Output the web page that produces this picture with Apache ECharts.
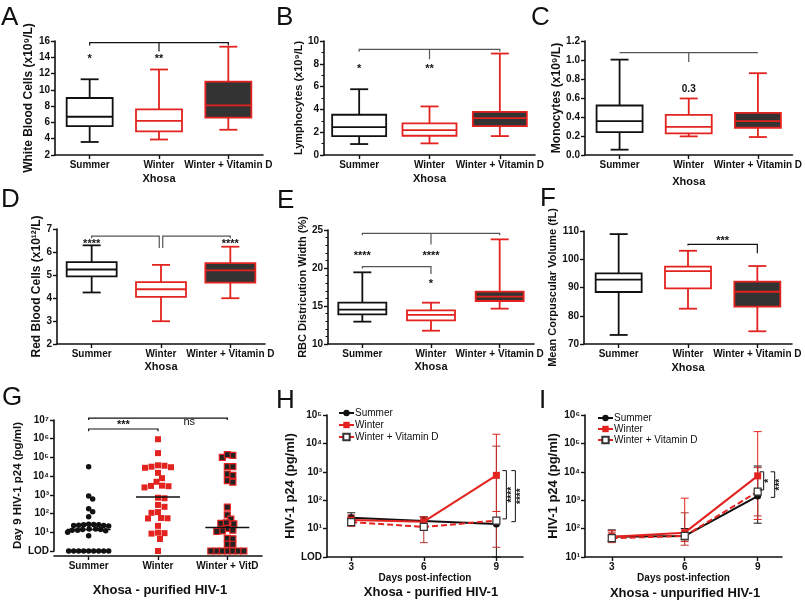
<!DOCTYPE html>
<html><head><meta charset="utf-8">
<script src="https://cdn.jsdelivr.net/npm/echarts@6/dist/echarts.min.js"></script>
<style>html,body{margin:0;padding:0;background:#fff}#c{width:805px;height:602px}</style>
</head><body><div id="c"></div><script>
const FONT = '"Liberation Sans", Arial, Helvetica, sans-serif';
const RED = '#e3231f';
const DARK = '#333333';
const INK = '#111111';

// ---------- data ----------
const groups = ['Summer', 'Winter', 'Winter + Vitamin D'];
const groupsG = ['Summer', 'Winter', 'Winter + VitD'];
// box plots: [min, Q1, median, Q3, max]
const wbc   = [[3.6,5.55,6.7,9.0,11.3],[3.9,4.9,6.2,7.6,12.5],[5.1,6.6,8.1,11.0,15.3]];
const lymph = [[0.96,1.66,2.45,3.53,5.77],[1.02,1.69,2.19,2.77,4.26],[1.66,2.54,3.24,3.79,8.9]];
const mono  = [[0.056,0.241,0.357,0.521,1.004],[0.196,0.227,0.297,0.423,0.595],[0.189,0.287,0.357,0.444,0.861]];
const rbc   = [[4.24,4.94,5.24,5.56,6.29],[2.99,4.05,4.38,4.69,5.44],[3.99,4.67,5.2,5.52,6.23]];
const rdw   = [[12.94,13.9,14.52,15.44,19.43],[11.75,13.11,13.82,14.43,15.44],[14.65,15.66,16.23,16.89,23.77]];
const mcv   = [[73.2,88.4,92.8,95.0,108.9],[82.5,89.7,95.8,97.4,103.0],[74.5,83.2,88.5,92.1,97.6]];

// G: day 9 p24 per donor (LOD = 1)
const summerG = [32000,870,600,180,125,68,27,25,23,26,24,22,25,23,15,13,14,12,15,13,14,10,6.6,1,1,1,1,1,1,1,1,1];
const winterG = [940000,170000,38000,30000,28000,32000,36000,15000,7800,5000,3000,2900,3100,2500,660,700,290,230,120,110,56,55,58,22,9,9.5,8.5,4.4,1];
const vitdG   = [130000,100000,140000,32000,32000,13000,11000,5800,4800,220,85,50,30,32,28,16,12,13,11,4.7,4.5,2.3,2.3,1,1,1,1,1,1,1];
const mediansG = [14, 770, 18];

// H / I: geometric means and error ranges
const days = [3, 6, 9];
const summerH = [24, 18.5, 14.5];
const winterH = [20, 17.5, 750];
const vitdH   = [17, 11.5, 19];
const summerHErr = [[17,36],[13.5,26],[1,22]];
const winterHErr = [[14,30],[12,26],[40,21000]];
const vitdHErr   = [[12,25],[3.2,25],[2.2,8000]];
const summerI = [52, 55, 1400];
const winterI = [52, 72, 7200];
const vitdI   = [46, 55, 2000];
const summerIErr = [[35,90],[40,100],[155,16000]];
const winterIErr = [[38,85],[35,1180],[210,260000]];
const vitdIErr   = [[32,75],[26,360],[280,14000]];

// significance annotations (data coordinates)
const sigLinesA = [[[0,15.45],[0,15.8],[2,15.8],[2,15.45]], [[1,15.8],[1,14.7]]];
const sigLabelsA = [[0,14.0,'*'],[1,14.0,'**']];
const sigLinesB = [[[0,9.05],[0,9.27],[2,9.27],[2,9.05]], [[1,9.27],[1,8.4]]];
const sigLabelsB = [[0,7.75,'*'],[1,7.75,'**']];
const sigLinesC = [[[0,1.078],[2,1.078]], [[1,1.078],[1,0.98]]];
const sigLabelsC = [[1,0.69,'0.3']];
const sigLinesD = [[[0,6.6],[0,6.69],[0.975,6.69],[0.975,6.17]], [[1.025,6.17],[1.025,6.69],[2,6.69],[2,6.6]]];
const sigLabelsD = [[0,6.45,'****'],[2,6.45,'****']];
const sigLinesE = [[[0,24.3],[0,24.56],[2,24.56],[2,24.3]], [[1,24.56],[1,23.1]], [[0,19.95],[0,20.18],[1,20.18],[1,19.2]]];
const sigLabelsE = [[0,21.9,'****'],[1,21.9,'****'],[1,18.1,'*']];
const sigLinesF = [[[1,104.9],[1,105.3],[2,105.3],[2,102.1]]];
const sigLabelsF = [[1.5,107.2,'***']];
const sigLinesG = [[[0,1e7],[0,1.26e7],[2,1.26e7],[2,1e7]], [[0,2.5e6],[0,3.3e6],[1,3.3e6],[1,2.5e6]]];
const sigLabelsG = [[0.5,6.8e6,'***'],[1.45,7.9e6,'ns']];
const sideSigH = [[9,1100,22,'****'],[9,1100,17.5,'****']];
const sideSigI = [[9,10000,2300,'*'],[9,10000,1260,'***']];

// ---------- helpers ----------
const SUP = {'0':'⁰','1':'¹','2':'²','3':'³','4':'⁴','5':'⁵','6':'⁶','7':'⁷','8':'⁸','9':'⁹','-':'⁻'};
const sup = n => String(n).split('').map(c => SUP[c]).join('');
const logLabel = v => { const e = Math.round(Math.log10(v)); return e === 0 ? 'LOD' : '10' + sup(e); };

const boxStyles = [
  {stroke: INK, fill: '#ffffff', median: INK},
  {stroke: RED, fill: '#ffffff', median: RED},
  {stroke: RED, fill: DARK, median: RED}
];

// coordinate on a category axis that also accepts fractional positions
function catCoord(api, p) {
  const a = Math.floor(p[0]), b = Math.ceil(p[0]);
  if (a === b) return api.coord(p);
  const pa = api.coord([a, p[1]]), pb = api.coord([b, p[1]]), t = p[0] - a;
  return [pa[0] + (pb[0] - pa[0]) * t, pa[1]];
}

function boxSeries(g, data, boxW) {
  return {
    type: 'custom', xAxisIndex: g, yAxisIndex: g, z: 3,
    data: data.map((d, i) => [i].concat(d)),
    encode: {x: 0, y: [1, 2, 3, 4, 5]},
    renderItem(params, api) {
      const i = api.value(0);
      const st = boxStyles[i];
      const c = k => api.coord([i, api.value(k)]);
      const pMin = c(1), pQ1 = c(2), pMed = c(3), pQ3 = c(4), pMax = c(5);
      const x = pMin[0], cap = 9, hw = boxW / 2, lw = 1.8;
      const ln = (x1, y1, x2, y2, col) => ({type: 'line', shape: {x1, y1, x2, y2}, style: {stroke: col, lineWidth: lw}});
      return {type: 'group', children: [
        ln(x, pQ3[1], x, pMax[1], st.stroke),
        ln(x, pQ1[1], x, pMin[1], st.stroke),
        ln(x - cap, pMax[1], x + cap, pMax[1], st.stroke),
        ln(x - cap, pMin[1], x + cap, pMin[1], st.stroke),
        {type: 'rect', shape: {x: x - hw, y: pQ3[1], width: boxW, height: pQ1[1] - pQ3[1]},
         style: {fill: st.fill, stroke: st.stroke, lineWidth: lw}},
        ln(x - hw, pMed[1], x + hw, pMed[1], st.median)
      ]};
    }
  };
}

function sigSeries(g, lines, labels, color, fontSize) {
  return {
    type: 'custom', xAxisIndex: g, yAxisIndex: g, z: 6, silent: true, clip: false,
    data: [[0]],
    renderItem(params, api) {
      const ch = [];
      lines.forEach(pl => ch.push({type: 'polyline', shape: {points: pl.map(p => catCoord(api, p))},
        style: {stroke: color, lineWidth: 1.2, fill: null}}));
      labels.forEach(t => {
        const p = catCoord(api, [t[0], t[1]]);
        const isStar = t[2].indexOf('*') >= 0;
        ch.push({type: 'text', x: p[0], y: p[1] + (isStar ? 2 : 0),
          style: {text: t[2], fill: INK, font: (isStar || t[2] === '0.3' ? 'bold ' : '') + (fontSize || 11) + 'px ' + FONT,
                  textAlign: 'center', textVerticalAlign: 'middle'}});
      });
      return {type: 'group', children: ch};
    }
  };
}

function beeswarm(ys, gap) {
  const order = ys.map((y, i) => i).sort((a, b) => ys[a] - ys[b]);
  const offs = new Array(ys.length).fill(0);
  const placed = [];
  order.forEach(i => {
    let chosen = 0;
    for (let s = 0; s < 200; s += 0.5) {
      let ok = false;
      for (const sign of [1, -1]) {
        const cand = s * sign;
        const clash = placed.some(p => (p[0] - cand) ** 2 + (p[1] - ys[i]) ** 2 < gap * gap);
        if (!clash) { chosen = cand; ok = true; break; }
      }
      if (ok) break;
    }
    offs[i] = chosen;
    placed.push([chosen, ys[i]]);
  });
  return offs;
}

function swarmSeries(g, cat, values, kind) {
  let offs = null;
  return {
    type: 'custom', xAxisIndex: g, yAxisIndex: g, z: 4,
    data: values.map(v => [cat, v]),
    encode: {x: 0, y: 1},
    renderItem(params, api) {
      if (params.dataIndex === 0 || !offs) {
        offs = beeswarm(values.map(v => api.coord([cat, v])[1]), kind.gap);
      }
      const p = api.coord([api.value(0), api.value(1)]);
      const cx = p[0] + offs[params.dataIndex], cy = p[1], s = kind.size;
      if (kind.shape === 'circle') return {type: 'circle', shape: {cx, cy, r: s / 2}, style: {fill: kind.fill}};
      return {type: 'rect', shape: {x: cx - s / 2, y: cy - s / 2, width: s, height: s},
              style: {fill: kind.fill, stroke: kind.stroke || null, lineWidth: kind.lw || 0}};
    }
  };
}

function medianSeries(g, meds) {
  return {
    type: 'custom', xAxisIndex: g, yAxisIndex: g, z: 5,
    data: meds.map((m, i) => [i, m]), encode: {x: 0, y: 1},
    renderItem(params, api) {
      const p = api.coord([api.value(0), api.value(1)]);
      return {type: 'line', shape: {x1: p[0] - 22, y1: p[1], x2: p[0] + 22, y2: p[1]}, style: {stroke: INK, lineWidth: 1.6}};
    }
  };
}

function errSeries(g, xs, errs, color) {
  return {
    type: 'custom', xAxisIndex: g, yAxisIndex: g, z: 2,
    data: xs.map((x, i) => [x, errs[i][0], errs[i][1]]), encode: {x: 0, y: [1, 2]},
    renderItem(params, api) {
      const lo = api.coord([api.value(0), api.value(1)]), hi = api.coord([api.value(0), api.value(2)]);
      const w = 4, st = {stroke: color, lineWidth: 1};
      return {type: 'group', children: [
        {type: 'line', shape: {x1: lo[0], y1: lo[1], x2: hi[0], y2: hi[1]}, style: st},
        {type: 'line', shape: {x1: lo[0] - w, y1: lo[1], x2: lo[0] + w, y2: lo[1]}, style: st},
        {type: 'line', shape: {x1: hi[0] - w, y1: hi[1], x2: hi[0] + w, y2: hi[1]}, style: st}
      ]};
    }
  };
}

function sideSigSeries(g, specs, lineOffs) {
  return {
    type: 'custom', xAxisIndex: g, yAxisIndex: g, z: 6, silent: true, clip: false,
    data: specs.map(s => [s[0], s[1], s[2]]), encode: {x: 0, y: [1, 2]},
    renderItem(params, api) {
      const spec = specs[params.dataIndex];
      const p1 = api.coord([spec[0], spec[1]]), p2 = api.coord([spec[0], spec[2]]);
      const X = p1[0] + lineOffs[params.dataIndex];
      return {type: 'group', children: [
        {type: 'polyline', shape: {points: [[X - 4, p1[1]], [X, p1[1]], [X, p2[1]], [X - 4, p2[1]]]},
         style: {stroke: INK, lineWidth: 1, fill: null}},
        {type: 'text', x: X + 6, y: (p1[1] + p2[1]) / 2, rotation: Math.PI / 2,
         style: {text: spec[3], fill: INK, font: 'bold 10px ' + FONT, textAlign: 'center', textVerticalAlign: 'middle'}}
      ]};
    }
  };
}

// ---------- layout ----------
const grids = [
  {left: 55, top: 41, width: 208, height: 114},
  {left: 324, top: 41, width: 211, height: 114},
  {left: 585, top: 41, width: 208, height: 114},
  {left: 57, top: 229, width: 208, height: 115},
  {left: 328, top: 230, width: 206, height: 114},
  {left: 584, top: 231, width: 208, height: 113},
  {left: 54, top: 420, width: 208, height: 131},
  {left: 327, top: 415, width: 196, height: 142},
  {left: 585, top: 415, width: 197, height: 142}
];

const axLine = {show: true, lineStyle: {color: INK, width: 1.6}};
const axTick = {show: true, length: 4, lineStyle: {color: INK, width: 1.4}};
const axLab = {color: INK, fontSize: 10, fontWeight: 'bold', fontFamily: FONT, margin: 5};
const nameSt = {color: INK, fontSize: 12, fontWeight: 'bold', fontFamily: FONT};

function catX(g, cats, name, gap) {
  return {type: 'category', gridIndex: g, data: cats, boundaryGap: true,
    axisLine: axLine, axisTick: Object.assign({alignWithLabel: true}, axTick),
    axisLabel: Object.assign({interval: 0}, axLab), splitLine: {show: false},
    name: name, nameLocation: 'middle', nameGap: gap,
    nameTextStyle: Object.assign({}, nameSt, {fontSize: 11})};
}
function valY(g, min, max, interval, name, gap, fs, extra) {
  return Object.assign({type: 'value', gridIndex: g, min, max, interval,
    axisLine: axLine, axisTick: axTick, axisLabel: Object.assign({}, axLab), splitLine: {show: false},
    name, nameLocation: 'middle', nameRotate: 90, nameGap: gap,
    nameTextStyle: Object.assign({}, nameSt, {fontSize: fs})}, extra || {});
}
function logY(g, min, max, name, gap, fs) {
  return {type: 'log', logBase: 10, gridIndex: g, min, max,
    axisLine: axLine, axisTick: axTick, axisLabel: Object.assign({}, axLab, {formatter: logLabel}),
    splitLine: {show: false}, minorTick: {show: false},
    name, nameLocation: 'middle', nameRotate: 90, nameGap: gap,
    nameTextStyle: Object.assign({}, nameSt, {fontSize: fs})};
}
function dayX(g, min, max) {
  return {type: 'value', gridIndex: g, min, max,
    axisLine: axLine, axisTick: Object.assign({customValues: days}, axTick),
    axisLabel: Object.assign({}, axLab, {customValues: days}), splitLine: {show: false},
    name: 'Days post-infection', nameLocation: 'middle', nameGap: 15,
    nameTextStyle: Object.assign({}, nameSt, {fontSize: 10})};
}

const minorB = {minorTick: {show: true, splitNumber: 2, length: 2.5, lineStyle: {color: INK, width: 1}}};
const minorE = {minorTick: {show: true, splitNumber: 5, length: 2.5, lineStyle: {color: INK, width: 1}}};

const xAxes = [
  catX(0, groups, 'Xhosa', 18.5),
  catX(1, groups, 'Xhosa', 18.5),
  catX(2, groups, 'Xhosa', 21.5),
  catX(3, groups, 'Xhosa', 17.5),
  catX(4, groups, 'Xhosa', 17.5),
  catX(5, groups, 'Xhosa', 18),
  Object.assign(catX(6, groupsG, '', 0), {offset: 5}),
  dayX(7, 2, 10.1),
  dayX(8, 1.9, 10)
];
const yAxes = [
  valY(0, 2, 16, 2, 'White Blood Cells (x10⁹/L)', 17, 12),
  valY(1, 0, 10, 2, 'Lymphocytes (x10⁹/L)', 16, 11, minorB),
  valY(2, 0, 1.2, 0.2, 'Monocytes (x10⁹/L)', 18, 12, {axisLabel: Object.assign({}, axLab, {formatter: v => v.toFixed(1)})}),
  valY(3, 2, 7, 1, 'Red Blood Cells (x10¹²/L)', 13, 12),
  valY(4, 10, 25, 5, 'RBC Districution Width (%)', 14.5, 11, minorE),
  valY(5, 70, 110, 10, 'Mean Corpuscular Volume (fL)', 16, 11),
  logY(6, 1, 1e7, 'Day 9 HIV-1 p24 (pg/ml)', 29, 11.5),
  logY(7, 1, 1e5, 'HIV-1 p24 (pg/ml)', 23, 13),
  logY(8, 10, 1e6, 'HIV-1 p24 (pg/ml)', 24, 13)
];

function lineSeries(g, name, xs, ys, kind) {
  const s = {name, type: 'line', xAxisIndex: g, yAxisIndex: g, z: 5,
    data: xs.map((x, i) => [x, ys[i]]), symbolSize: 7,
    lineStyle: {width: 2}, emphasis: {disabled: true}};
  if (kind === 0) { s.symbol = 'circle'; s.lineStyle.color = INK; s.itemStyle = {color: INK}; }
  if (kind === 1) { s.symbol = 'rect'; s.lineStyle.color = RED; s.itemStyle = {color: RED}; }
  if (kind === 2) { s.symbol = 'rect'; s.lineStyle = {color: RED, width: 2, type: [6, 3]};
                    s.itemStyle = {color: '#ffffff', borderColor: DARK, borderWidth: 1.2}; }
  return s;
}

const VD_ERR = '#b8322c';
const series = [
  boxSeries(0, wbc, 46), sigSeries(0, sigLinesA, sigLabelsA, INK),
  boxSeries(1, lymph, 54), sigSeries(1, sigLinesB, sigLabelsB, '#555'),
  boxSeries(2, mono, 46), sigSeries(2, sigLinesC, sigLabelsC, '#555', 10),
  boxSeries(3, rbc, 50), sigSeries(3, sigLinesD, sigLabelsD, '#555'),
  boxSeries(4, rdw, 48), sigSeries(4, sigLinesE, sigLabelsE, '#555'),
  boxSeries(5, mcv, 46), sigSeries(5, sigLinesF, sigLabelsF, INK),
  swarmSeries(6, 0, summerG, {shape: 'circle', size: 5.5, fill: INK, gap: 4.8}),
  swarmSeries(6, 1, winterG, {shape: 'rect', size: 6, fill: RED, gap: 6.5}),
  swarmSeries(6, 2, vitdG, {shape: 'rect', size: 6, fill: '#222', stroke: RED, lw: 1.2, gap: 5.4}),
  medianSeries(6, mediansG),
  sigSeries(6, sigLinesG, sigLabelsG, INK),
  errSeries(7, days, summerHErr, INK), errSeries(7, days, winterHErr, RED), errSeries(7, days, vitdHErr, VD_ERR),
  lineSeries(7, 'Summer', days, summerH, 0), lineSeries(7, 'Winter', days, winterH, 1), lineSeries(7, 'Winter + Vitamin D', days, vitdH, 2),
  sideSigSeries(7, sideSigH, [10, 19]),
  errSeries(8, days, summerIErr, INK), errSeries(8, days, winterIErr, RED), errSeries(8, days, vitdIErr, VD_ERR),
  lineSeries(8, 'Summer', days, summerI, 0), lineSeries(8, 'Winter', days, winterI, 1), lineSeries(8, 'Winter + Vitamin D', days, vitdI, 2),
  sideSigSeries(8, sideSigI, [6, 17])
];

const legendBase = {orient: 'vertical', itemWidth: 15, itemHeight: 8, selectedMode: false,
  textStyle: {fontSize: 10, fontFamily: FONT, color: INK, padding: [0, 0, 0, -4]},
  data: ['Summer', 'Winter', 'Winter + Vitamin D']};

const letter = (t, x, y) => ({type: 'text', x, y, style: {text: t, fill: INK, font: '26px ' + FONT, textVerticalAlign: 'top'}});
const title = (t, x, y) => ({type: 'text', x, y, style: {text: t, fill: INK, font: 'bold 13px ' + FONT, textAlign: 'center', textVerticalAlign: 'middle'}});

const option = {
  animation: false,
  backgroundColor: '#ffffff',
  textStyle: {fontFamily: FONT},
  grid: grids,
  xAxis: xAxes,
  yAxis: yAxes,
  legend: [
    Object.assign({left: 333, top: 403, itemGap: 2}, legendBase),
    Object.assign({left: 592, top: 408, itemGap: 1}, legendBase)
  ],
  graphic: [
    letter('A', 1, 5), letter('B', 276, 5), letter('C', 531, 5),
    letter('D', 1, 187), letter('E', 277, 188), letter('F', 540, 186),
    letter('G', 2, 385), letter('H', 276, 388), letter('I', 539, 388),
    title('Xhosa - purified HIV-1', 160, 590),
    title('Xhosa - purified HIV-1', 431, 592),
    title('Xhosa - unpurified HIV-1', 685, 593)
  ],
  series
};

const chart = echarts.init(document.getElementById('c'), null, {renderer: 'canvas'});
chart.setOption(option);
</script></body></html>
